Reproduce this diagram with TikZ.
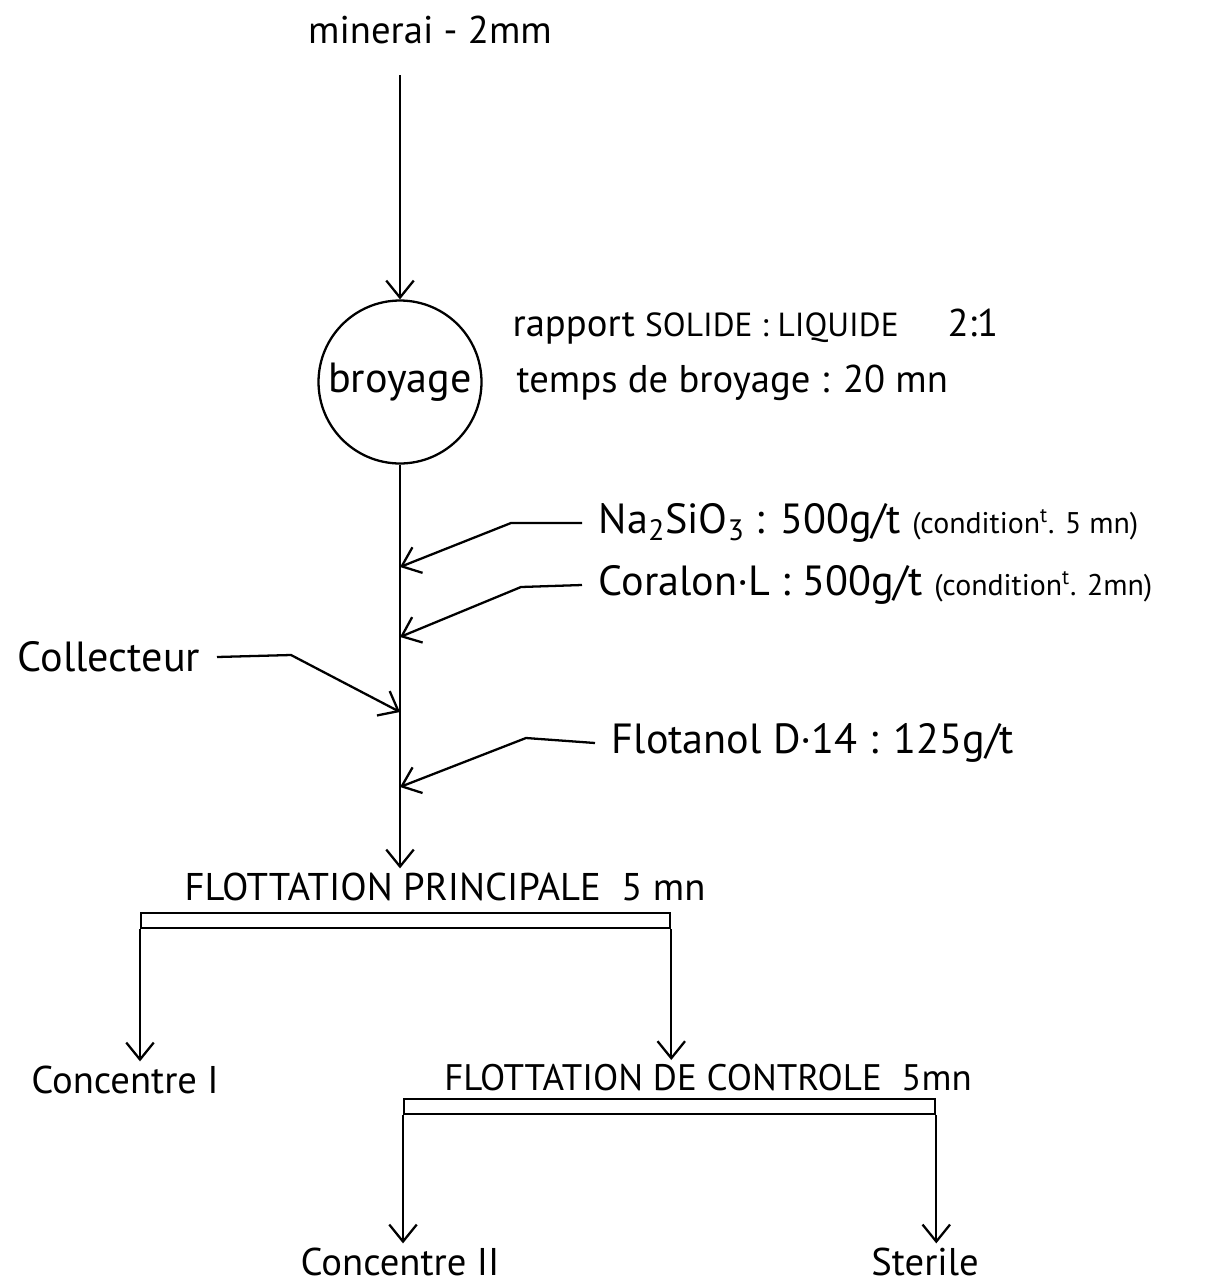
\documentclass[tikz,border=0pt]{standalone}
\usepackage{fontspec}
\setmainfont{PT Sans}
\usetikzlibrary{arrows.meta}
\begin{document}
\begin{tikzpicture}[x=0.02cm,y=-0.02cm,
  line width=1.3pt,
  arr/.style={-{Straight Barb[length=3.4mm,width=5.5mm,line width=1.3pt]}},
  txt/.style={inner sep=2pt,font=\fontsize{22}{26}\selectfont},
  big/.style={inner sep=2pt,font=\fontsize{24}{28}\selectfont},
  reag/.style={big,inner xsep=9pt},
  captxt/.style={inner sep=2pt,font=\fontsize{21}{25}\selectfont},
  bar/.style={draw,rectangle,minimum height=15*0.02cm,inner sep=0pt}]
\useasboundingbox (0,0) rectangle (1226,1285);
% top
\node[txt] (min) at (430,30) {minerai - 2mm};
\coordinate (top) at (400,75);
\node[draw,circle,minimum size=3.26cm,inner sep=0pt,big] (broy) at (400,382) {broyage};
\draw[arr] (top) -- (broy.north);
\node[txt,anchor=west] (rap) at (508,327) {rapport {\fontsize{19}{22}\selectfont SOLIDE : LIQUIDE}\quad\ 2:1};
\node[txt,anchor=west] (temps) at (512,383) {temps de broyage : 20 mn};
% principal flotation title
\node[captxt,font=\fontsize{22}{26}\selectfont] (fp) at (445,887) {FLOTTATION PRINCIPALE\ \ 5 mn};
\draw[arr] (broy.south) -- (broy.south |- fp.north);
% reagents
\coordinate (j1) at (400,567);
\coordinate (j2) at (400,637);
\coordinate (j3) at (400,712);
\coordinate (j4) at (400,787);
\node[reag,anchor=west] (na) at (582,523) {Na\textsubscript{2}SiO\textsubscript{3} : 500g/t {\fontsize{17}{20}\selectfont (condition\textsuperscript{t}. 5 mn)}};
\coordinate (k1) at (511,523);
\draw[arr] (na.west) -- (k1) -- (j1);
\node[reag,anchor=west] (cor) at (582,585) {Coralon·L : 500g/t {\fontsize{17}{20}\selectfont(condition\textsuperscript{t}. 2mn)}};
\coordinate (k2) at (521,587);
\draw[arr] (cor.west) -- (k2) -- (j2);
\node[reag,anchor=east] (col) at (217,657) {Collecteur};
\coordinate (k3) at (291,655);
\draw[arr] (col.east) -- (k3) -- (j3);
\node[reag,anchor=west] (flo) at (595,743) {Flotanol D·14 : 125g/t};
\coordinate (k4) at (526,738);
\draw[arr] (flo.west) -- (k4) -- (j4);
% principal flotation bar
\node[bar,minimum width=529*0.02cm,anchor=north west] (b1) at (140,912) {};
\node[txt] (c1) at (125,1080) {Concentre I};
\node[captxt] (fc) at (708,1078) {FLOTTATION DE CONTROLE\ \ 5mn};
\draw[arr] (b1.south west) -- (b1.south west |- c1.north);
\draw[arr] (b1.south east) -- (b1.south east |- fc.north);
% control flotation bar
\node[bar,minimum width=531*0.02cm,anchor=north west] (b2) at (403,1098) {};
\node[txt] (c2) at (400,1262) {Concentre II};
\node[txt] (st) at (925,1262) {Sterile};
\draw[arr] (b2.south west) -- (b2.south west |- c2.north);
\draw[arr] (b2.south east) -- (b2.south east |- st.north);
\end{tikzpicture}
\end{document}
